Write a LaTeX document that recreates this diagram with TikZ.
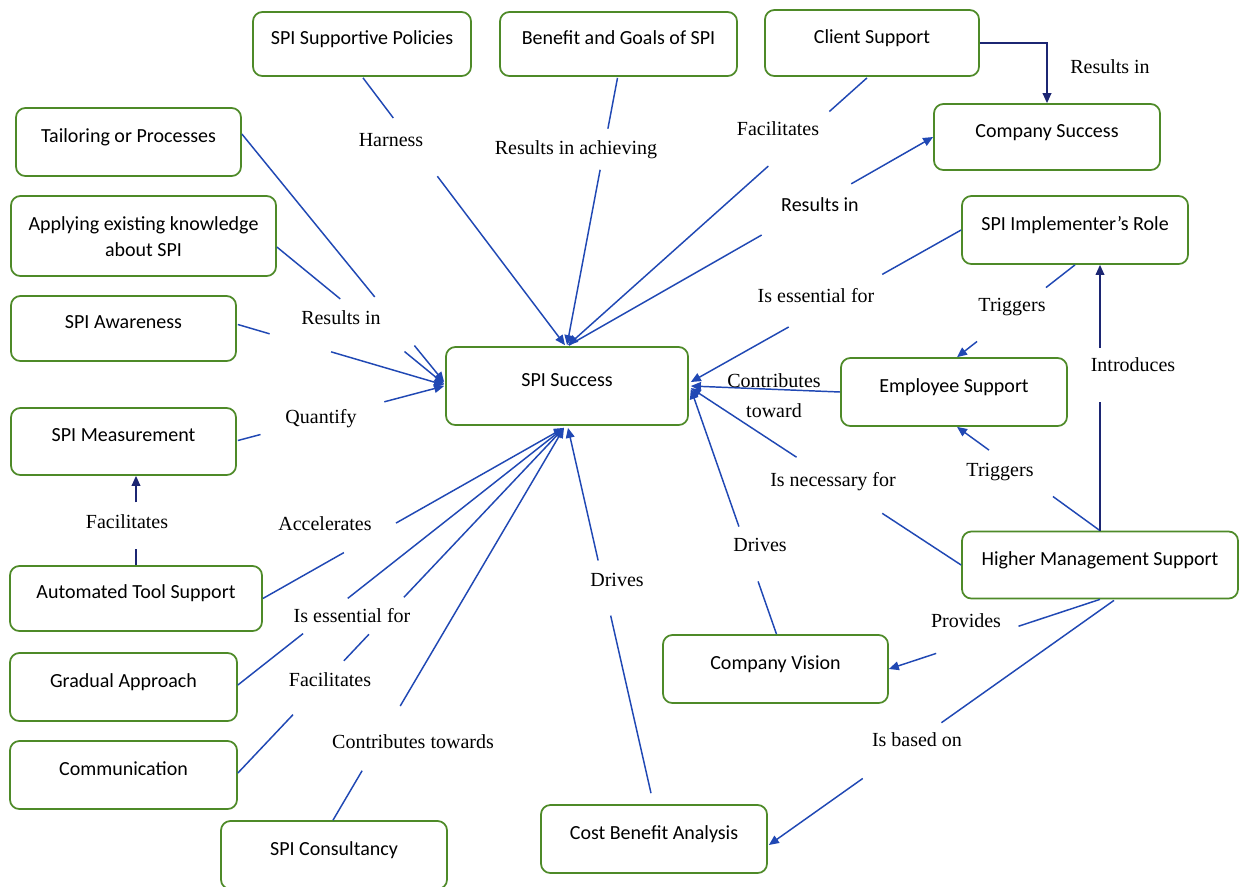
\documentclass[tikz,border=0pt]{standalone}
\usepackage{fontspec}
\setmainfont{Liberation Serif}
\newfontfamily\boxfont{Carlito}
\usetikzlibrary{arrows.meta,calc}
\definecolor{boxgreen}{RGB}{78,138,40}
\definecolor{connblue}{RGB}{32,72,180}
\definecolor{navyblue}{RGB}{28,38,115}
\def\px{0.75pt}
\tikzset{
  sz/.style 2 args={minimum width=#1*\px, minimum height=#2*\px},
  box/.style={draw=boxgreen, line width=1.3pt, rounded corners=7pt, inner sep=0pt,
    font=\boxfont\fontsize{15}{19.5}\selectfont, text height=10pt, text depth=10pt, align=center},
  lbl/.style={font=\fontsize{15}{22.5}\selectfont, inner sep=0pt, text height=11.25pt, text depth=2.25pt, align=center},
  slbl/.style={lbl, font=\boxfont\fontsize{15}{19.5}\selectfont},
  conn/.style={draw=connblue, line width=1.1pt},
  navy/.style={draw=navyblue},
  arr/.style={-{Triangle[length=7.5pt,width=6.5pt]}}
}
\newcommand\gap[5][]{\draw[conn,#1] (#2) -- ($(#2)!#4!(#3)$) ($(#2)!#5!(#3)$) -- (#3);}
\begin{document}
\begin{tikzpicture}[x=0.75pt,y=-0.75pt]
\fill[white] (0,0) rectangle (1239,886);
\useasboundingbox (0,0) rectangle (1239,886);
% boxes
\node[box, sz={218}{64}] (pol)  at (362,44)     {SPI Supportive Policies};
\node[box, sz={237}{64}] (ben)  at (618.5,44)   {Benefit and Goals of SPI};
\node[box, sz={214}{66}] (cli)  at (872,43)     {Client Support};
\node[box, sz={226}{66}] (csuc) at (1047,137)   {Company Success};
\node[box, sz={225}{68}] (tail) at (128.5,142)  {Tailoring or Processes};
\node[box, sz={265}{80}, text height=30pt, text depth=0pt] (appl) at (143.5,236) {Applying existing knowledge\\about SPI};
\node[box, sz={226}{68}] (impl) at (1075,230)   {SPI Implementer’s Role};
\node[box, sz={225}{65}] (awa)  at (123.5,328.5) {SPI Awareness};
\node[box, sz={242}{78}] (succ) at (567,386)    {SPI Success};
\node[box, sz={226}{68}] (emp)  at (954,392)    {Employee Support};
\node[box, sz={225}{67}] (meas) at (123.5,441.5) {SPI Measurement};
\node[box, sz={252}{65}] (auto) at (136,598.5)  {Automated Tool Support};
\node[box, sz={276}{67}] (hms)  at (1100,565)   {Higher Management Support};
\node[box, sz={227}{68}] (grad) at (123.5,687)  {Gradual Approach};
\node[box, sz={225}{68}] (cvis) at (775.5,669)  {Company Vision};
\node[box, sz={227}{68}] (comm) at (123.5,775)  {Communication};
\node[box, sz={226}{68}] (cons) at (334,855)    {SPI Consultancy};
\node[box, sz={226}{68}] (cba)  at (654,839)    {Cost Benefit Analysis};
% connector end points
\coordinate (a1) at ($(pol.south)+(1,1)$);    \coordinate (b1) at ($(succ.north)+(-2,-1)$);
\coordinate (a2) at ($(ben.south)+(-1,1)$);   \coordinate (b2) at ($(succ.north)+(0,-1)$);
\coordinate (a3) at ($(cli.south)+(-5,1)$);   \coordinate (b3) at ($(succ.north)+(1,-1)$);
\coordinate (a4) at ($(succ.north)+(2,-1)$);  \coordinate (b4) at (csuc.west);
\coordinate (a5) at ($(tail.east)+(0,-8)$);   \coordinate (b5) at ($(succ.west)+(-1,-4)$);
\coordinate (a6) at ($(appl.east)+(0,11)$);   \coordinate (b6) at ($(succ.west)+(-1,-2)$);
\coordinate (a7) at ($(awa.east)+(1,-4)$);    \coordinate (b7) at ($(succ.west)+(-1,-1)$);
\coordinate (a8) at ($(meas.east)+(1,-1)$);   \coordinate (b8) at ($(succ.west)+(-1,0)$);
\coordinate (a9) at (auto.east);              \coordinate (b9) at ($(succ.south)+(-3,2)$);
\coordinate (a10) at ($(grad.east)+(0,-2)$);
\coordinate (a11) at ($(comm.east)+(0,-2)$);
\coordinate (a12) at ($(cons.north)+(-1,0)$);
\coordinate (a13) at ($(cba.north)+(-3,-11)$); \coordinate (b13) at ($(succ.south)+(1,2)$);
\coordinate (b14) at ($(succ.east)+(2,0)$);
\coordinate (a15) at (impl.west);             \coordinate (b15) at ($(succ.east)+(2,-4)$);
\coordinate (a16) at (hms.west);              \coordinate (b16) at ($(succ.east)+(2,2)$);
\coordinate (a17) at ($(cvis.north)+(1,0)$);  \coordinate (b17) at ($(succ.east)+(2,3)$);
\coordinate (a19) at (impl.south);            \coordinate (b19) at ($(emp.north)+(3,0)$);
\coordinate (a20) at (hms.north);             \coordinate (b20) at ($(emp.south)+(3,0)$);
\coordinate (b21) at (hms.north |- impl.south);
\coordinate (a22) at (hms.south);             \coordinate (b22) at (cvis.east);
\coordinate (a23) at ($(hms.south)+(14,1)$);  \coordinate (b23) at ($(cba.east)+(1,6)$);
\coordinate (a24) at (auto.north);            \coordinate (b24) at (auto.north |- meas.south);
% connectors
\gap[arr]{a1}{b1}{.15}{.368}
\gap[arr]{a2}{b2}{.19}{.344}
\gap[arr]{a3}{b3}{.126}{.33}
\gap[arr]{a4}{b4}{.529}{.775}
\gap[arr]{a5}{b5}{.657}{.853}
\gap[arr]{a6}{b6}{.379}{.763}
\gap[arr]{a7}{b7}{.154}{.452}
\gap[arr]{a8}{b8}{.11}{.71}
\gap[arr]{a9}{b9}{.269}{.442}
\gap[arr]{a10}{b9}{.2}{.337}
\draw[conn,arr] (a11) -- ($(a11)!.169!(b9)$) ($(a11)!.325!(b9)$) -- ($(a11)!.402!(b9)$) ($(a11)!.509!(b9)$) -- (b9);
\gap[arr]{a12}{b9}{.126}{.291}
\gap[arr]{a13}{b13}{.486}{.637}
\draw[conn,arr] (emp.west) -- (b14);
\gap[arr]{a15}{b15}{.292}{.638}
\gap[arr]{a16}{b16}{.292}{.609}
\gap[arr]{a17}{b17}{.215}{.439}
\draw[conn,navy,arr] (cli.east) -| (csuc.north);
\gap[arr]{a19}{b19}{.246}{.83}
\gap[arr]{a20}{b20}{.329}{.776}
\gap[arr,navy]{a20}{b21}{.483}{.689}
\gap[arr]{a22}{b22}{.386}{.776}
\gap[arr]{a23}{b23}{.5}{.728}
\gap[arr,navy]{a24}{b24}{.176}{.703}
% labels
\node[lbl] (l1)  at (391,140) {Harness};
\node[lbl] (l2)  at (576,148) {Results in achieving};
\node[lbl] (l3)  at (778,129) {Facilitates};
\node[lbl] (l4)  at (1110,67) {Results in};
\node[slbl] (l5) at (820,205) {Results in};
\node[lbl] (l6)  at (816,296) {Is essential for};
\node[lbl] (l7)  at (1012,305) {Triggers};
\node[lbl] (l8)  at (1133,365) {Introduces};
\node[lbl] (l9)  at (774,411) {Contributes\\toward};
\node[lbl] (l10) at (1000,470) {Triggers};
\node[lbl] (l11) at (833,480) {Is necessary for};
\node[lbl] (l12) at (760,545) {Drives};
\node[lbl] (l13) at (966,621) {Provides};
\node[lbl] (l14) at (917,740) {Is based on};
\node[lbl] (l15) at (617,580) {Drives};
\node[lbl] (l16) at (341,318) {Results in};
\node[lbl] (l17) at (321,417) {Quantify};
\node[lbl] (l18) at (127,522) {Facilitates};
\node[lbl] (l19) at (325,524) {Accelerates};
\node[lbl] (l20) at (352,616) {Is essential for};
\node[lbl] (l21) at (330,680) {Facilitates};
\node[lbl] (l22) at (413,742) {Contributes towards};
\end{tikzpicture}
\end{document}
